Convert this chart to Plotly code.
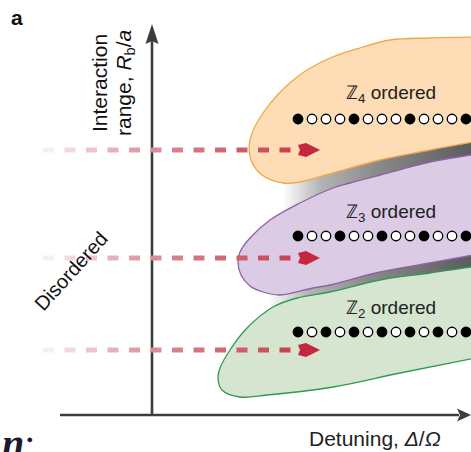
import plotly.graph_objects as go

# ---------------- schematic data (canvas units: x right, y down) ----------------
# Phase-region outlines (points the spline passes through)
z4_x = [490, 430, 390, 363, 330, 297, 263, 250, 251, 262, 283, 300, 333, 380, 430, 490]
z4_y = [37, 38, 40, 47, 58, 77, 113, 140, 160, 175, 183, 182, 173, 160, 150, 139]

z3_x = [490, 471, 430, 380, 350, 333, 300, 270, 250, 240, 238, 241, 250, 263, 280, 313, 330, 380, 430, 490]
z3_y = [152, 155, 162, 175, 183, 188, 203, 220, 238, 252, 262, 275, 286, 292, 295, 288, 285, 272, 263, 252]

z2_x = [490, 471, 430, 380, 330, 297, 273, 247, 230, 220, 218, 222, 240, 267, 333, 400, 490]
z2_y = [265, 267, 273, 280, 292, 298, 307, 328, 350, 368, 378, 390, 397, 395, 387, 373, 355]

# Shaded side walls between neighbouring regions
wall1_x = [283, 490, 490, 283]
wall1_y = [178, 130, 168, 240]
wall2_x = [268, 490, 490, 268]
wall2_y = [285, 245, 280, 330]

# Atom chains: 1 = excited (filled), 0 = ground (open)
z4_sites = [1, 0, 0, 0, 1, 0, 0, 0, 1, 0, 0, 0, 1]
z3_sites = [1, 0, 0, 1, 0, 0, 1, 0, 0, 1, 0, 0, 1]
z2_sites = [1, 0, 1, 0, 1, 0, 1, 0, 1, 0, 1, 0, 1]
chain_rows = [119, 236, 332]
chain_x0, chain_dx = 298, 14

# Sweep arrows (dashed, fading in from the disordered side)
sweep_levels = [150, 258, 350]
sweep_x0, sweep_period, sweep_dash, sweep_end = 43, 21.5, 11, 291

region_labels = ["ℤ<sub>4</sub> ordered", "ℤ<sub>3</sub> ordered", "ℤ<sub>2</sub> ordered"]
label_rows = [94, 213, 309]

W, H = 471, 452
AX = "#3d3d3d"
FONT = "Liberation Sans, Arial, Helvetica, sans-serif"

fig = go.Figure()

# side walls with horizontal grey gradient
wall_scale = [[0, "#ffffff"], [0.2, "#b4b4b4"], [0.5, "#8a8a8a"], [1, "#5c5c5c"]]
for wx, wy, s in [(wall1_x, wall1_y, 283), (wall2_x, wall2_y, 268)]:
    fig.add_trace(go.Scatter(
        x=wx, y=wy, mode="none", fill="toself",
        fillgradient=dict(type="horizontal", colorscale=wall_scale, start=s, stop=471),
        hoverinfo="skip", showlegend=False))

# phase regions
for xs, ys, fillc, linec in [
    (z4_x, z4_y, "#fddcb6", "#f0a648"),
    (z3_x, z3_y, "#dccbe5", "#8e5fab"),
    (z2_x, z2_y, "#d5e5d0", "#2f9a55"),
]:
    fig.add_trace(go.Scatter(
        x=xs, y=ys, mode="lines", fill="toself", fillcolor=fillc,
        line=dict(color=linec, width=1.3, shape="spline", smoothing=1.0),
        hoverinfo="skip", showlegend=False))

# atom chains
for sites, yrow in zip([z4_sites, z3_sites, z2_sites], chain_rows):
    xs = [chain_x0 + i * chain_dx for i in range(len(sites))]
    fig.add_trace(go.Scatter(
        x=xs, y=[yrow] * len(sites), mode="markers",
        marker=dict(size=9.5, color=["#000000" if s else "#ffffff" for s in sites],
                    line=dict(color="#000000", width=1.3)),
        hoverinfo="skip", showlegend=False))

shapes = []


def mix(c1, c2, t):
    a = [int(c1[i:i + 2], 16) for i in (1, 3, 5)]
    b = [int(c2[i:i + 2], 16) for i in (1, 3, 5)]
    return "#" + "".join(f"{round(a[k] + (b[k] - a[k]) * t):02x}" for k in range(3))


def sweep_color(x):
    if x < 150:
        return mix("#fbf2f3", "#da909b", (x - sweep_x0) / (150 - sweep_x0))
    return mix("#da909b", "#c8404f", min(1, (x - 150) / (sweep_end - 150)))


# axes
shapes.append(dict(type="line", x0=152, y0=415, x1=152, y1=40, line=dict(color=AX, width=2.6)))
shapes.append(dict(type="line", x0=60, y0=415, x1=459, y1=415, line=dict(color=AX, width=2.6)))
shapes.append(dict(type="path", path="M152,24 L145.5,44 L152,41 L158.5,44 Z", fillcolor=AX, line=dict(width=0)))
shapes.append(dict(type="path", path="M471,415 L457,408.5 L460,415 L457,421.5 Z", fillcolor=AX, line=dict(width=0)))

# dashed sweep arrows
for yl in sweep_levels:
    x = sweep_x0
    while x < sweep_end:
        x1 = min(x + sweep_dash, sweep_end)
        shapes.append(dict(type="line", x0=x, y0=yl, x1=x1, y1=yl,
                           line=dict(color=sweep_color((x + x1) / 2), width=5)))
        x += sweep_period
    head = (f"M298,{yl-5} L306,{yl-7} L320,{yl} L306,{yl+7} L298,{yl+5} L300,{yl} Z")
    shapes.append(dict(type="path", path=head, fillcolor="#c4283c", line=dict(width=0)))

ann = []
for txt, yl in zip(region_labels, label_rows):
    ann.append(dict(x=391, y=yl, text=txt, showarrow=False, xanchor="center", yanchor="middle",
                    font=dict(family=FONT, size=19, color="#222222")))

ann += [
    dict(x=17, y=17, text="<b>a</b>", showarrow=False, font=dict(family=FONT, size=21, color="#111111")),
    dict(x=99, y=83, text="Interaction", textangle=-90, showarrow=False,
         font=dict(family=FONT, size=21, color="#111111")),
    dict(x=125, y=83, text="range, <i>R</i><sub>b</sub>/<i>a</i>", textangle=-90, showarrow=False,
         font=dict(family=FONT, size=21, color="#111111")),
    dict(x=71, y=271, text="Disordered", textangle=-48, showarrow=False,
         font=dict(family=FONT, size=20, color="#111111")),
    dict(x=375, y=438, text="Detuning, <i>Δ</i>/<i>Ω</i>", showarrow=False,
         font=dict(family=FONT, size=21, color="#222222")),
    dict(x=0, y=443, text="<i><b>n</b></i>;", showarrow=False, xanchor="left", yanchor="middle",
         font=dict(family="Liberation Serif, serif", size=40, color="#1a1a2e")),
]

fig.update_layout(
    width=W, height=H, margin=dict(l=0, r=0, t=0, b=0), autosize=False,
    paper_bgcolor="white", plot_bgcolor="white",
    xaxis=dict(range=[0, W], visible=False, fixedrange=True),
    yaxis=dict(range=[H, 0], visible=False, fixedrange=True),
    shapes=shapes, annotations=ann, showlegend=False,
)

fig.write_html("out.html")
